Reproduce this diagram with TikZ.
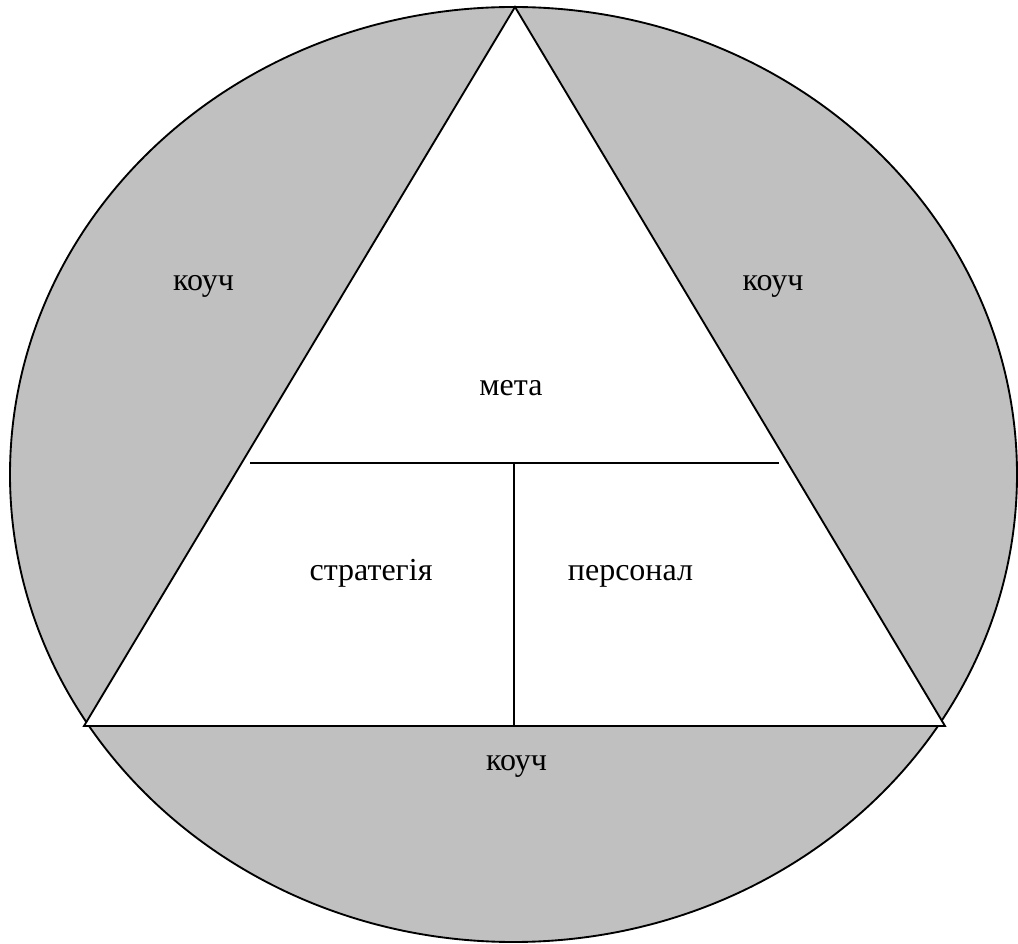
\documentclass[tikz,border=0pt]{standalone}
\usepackage{fontspec}
\setmainfont{Liberation Serif}
\usepackage{tikz}
\definecolor{shade}{RGB}{192,192,192}

\begin{document}
\begin{tikzpicture}[x=0.75pt,y=-0.75pt,line width=1.4pt,
  lbl/.style={anchor=base,inner sep=0pt,font=\fontsize{24}{28}\selectfont}]
  \useasboundingbox (0,0) rectangle (1018,944);
  \coordinate (top) at (515,7);
  \coordinate (bl) at (84,726);
  \coordinate (br) at (945,726);
  \coordinate (ml) at (250,463);
  \coordinate (mr) at (779,463);
  \coordinate (mm) at (514,463);
  \coordinate (mb) at (514,726);
  \draw[fill=shade] (513.5,474.5) ellipse [x radius=503.5, y radius=467.5];
  \draw[fill=white] (top) -- (bl) -- (br) -- cycle;
  \draw (ml) -- (mr);
  \draw (mm) -- (mb);
  \node[lbl] (c1) at (203.5,291) {коуч};
  \node[lbl] (c2) at (773,291) {коуч};
  \node[lbl] (c3) at (516.5,770) {коуч};
  \node[lbl] (g) at (511,396) {мета};
  \node[lbl] (s) at (371,581) {стратегія};
  \node[lbl] (p) at (630.5,581) {персонал};
\end{tikzpicture}
\end{document}
